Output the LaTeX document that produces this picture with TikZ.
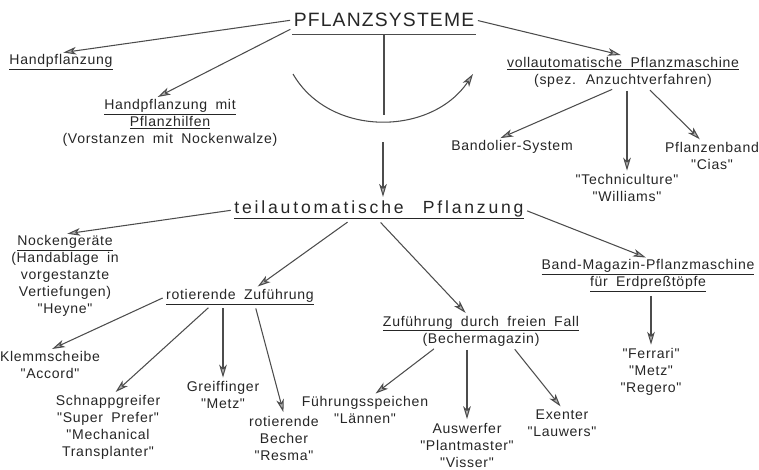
\documentclass[tikz,border=0pt]{standalone}
\usepackage{fontspec}
\newfontfamily\lblfont[LetterSpace=5,WordSpace=1.8]{Liberation Sans}
\newfontfamily\headfont[LetterSpace=6]{Liberation Sans}
\newfontfamily\teilfont[LetterSpace=16,WordSpace=2.5]{Liberation Sans}
\usetikzlibrary{positioning, arrows.meta}

\begin{document}
\begin{tikzpicture}[x=0.03cm, y=-0.03cm,
    lbl/.style={align=center, inner sep=1pt, text=black!85, font=\lblfont\fontsize{12}{14.5}\selectfont},
    conn/.style={draw=black!70, line width=0.9pt},
    arr/.style={conn, -{Stealth[length=11pt, width=6.5pt, inset=3pt, fill=gray!60]}, shorten >=2pt, shorten <=2pt}]
\useasboundingbox (0,0) rectangle (759,469);

\node[inner sep=1pt, text=black!85, font=\headfont\fontsize{16.5}{18}\selectfont] (title) at (384,20) {PFLANZSYSTEME};
\node[lbl] (hand) at (61,62) {\underline{Handpflanzung}};
\node[lbl] (handmit) at (170,123) {\underline{Handpflanzung mit}\\\underline{Pflanzhilfen}\\(Vorstanzen mit Nockenwalze)};
\node[lbl] (voll) at (623,72) {\underline{vollautomatische Pflanzmaschine}\\(spez. Anzuchtverfahren)};
\node[lbl] (bandolier) at (512,147) {Bandolier-System};
\node[lbl] (techni) at (627,188) {"Techniculture"\\"Williams"};
\node[lbl] (cias) at (712,156) {Pflanzenband\\"Cias"};

    \draw[arr] (title.west) -- (hand.north);
    \draw[arr] (title.south west) -- (handmit.120);
    \draw[arr] (title.east) -- (voll.north);
    \draw[arr] (voll.-118) -- (bandolier.150);
    \draw[arr] (voll.south -| techni.north) -- (techni.north);
    \draw[arr] (voll.-33) -- (cias.125);

% underline, stem and the bow of the title
\draw[conn] ([yshift=-5pt]title.south west) -- ([yshift=-5pt]title.south east) coordinate[midway] (ulmid);
\coordinate (stem) at (383,115);
\draw[conn] (ulmid) -- (ulmid |- stem);
\coordinate (arcL) at (293,74);
\coordinate (arcR) at (473,74);
\draw[arr, shorten <=0pt, shorten >=0pt] (arcL) .. controls (330,138) and (432,136) .. (arcR);

\node[inner sep=1pt, text=black!85, font=\teilfont\fontsize{15}{17}\selectfont] (teil) at (379,210) {\underline{teilautomatische Pflanzung}};
\coordinate (split) at (383,140);
    \draw[arr] (split) -- (split |- teil.north);

\node[lbl] (nocken) at (65,276) {\underline{Nockengeräte}\\(Handablage in\\vorgestanzte\\Vertiefungen)\\"Heyne"};
\node[lbl] (rot) at (240,297) {\underline{rotierende Zuführung}};
\node[lbl] (fall) at (481,331) {\underline{Zuführung durch freien Fall}\\(Bechermagazin)};
\node[lbl] (bandmag) at (648,276) {\underline{Band-Magazin-Pflanzmaschine}\\\underline{für Erdpreßtöpfe}};
\node[lbl] (ferrari) at (651,372) {"Ferrari"\\"Metz"\\"Regero"};

    \draw[arr] (teil.west) -- (nocken.north);
    \draw[arr] (teil.-160) -- (rot.30);
    \draw[arr] (teil.south) -- (fall.130);
    \draw[arr] (teil.east) -- (bandmag.north);
    \draw[arr] (bandmag.south -| ferrari.north) -- (ferrari.north);

\node[lbl] (klemm) at (50,365) {Klemmscheibe\\"Accord"};
\node[lbl] (schnapp) at (108,427) {Schnappgreifer\\"Super Prefer"\\"Mechanical\\Transplanter"};
\node[lbl] (greif) at (223,395) {Greiffinger\\"Metz"};
\node[lbl] (becher) at (284,438) {rotierende\\Becher\\"Resma"};

    \draw[arr] (rot.west) -- (klemm.north);
    \draw[arr] (rot.-163) -- (schnapp.80);
    \draw[arr] (rot.south -| greif.north) -- (greif.north);
    \draw[arr] (rot.-31) -- (becher.north);

\node[lbl] (fuehr) at (365,410) {Führungsspeichen\\"Lännen"};
\node[lbl] (ausw) at (467,445) {Auswerfer\\"Plantmaster"\\"Visser"};
\node[lbl] (exen) at (562,423) {Exenter\\"Lauwers"};

    \draw[arr] (fall.-160) -- (fuehr.60);
    \draw[arr] (fall.south -| ausw.north) -- (ausw.north);
    \draw[arr] (fall.-27) -- (exen.north);
\end{tikzpicture}
\end{document}
